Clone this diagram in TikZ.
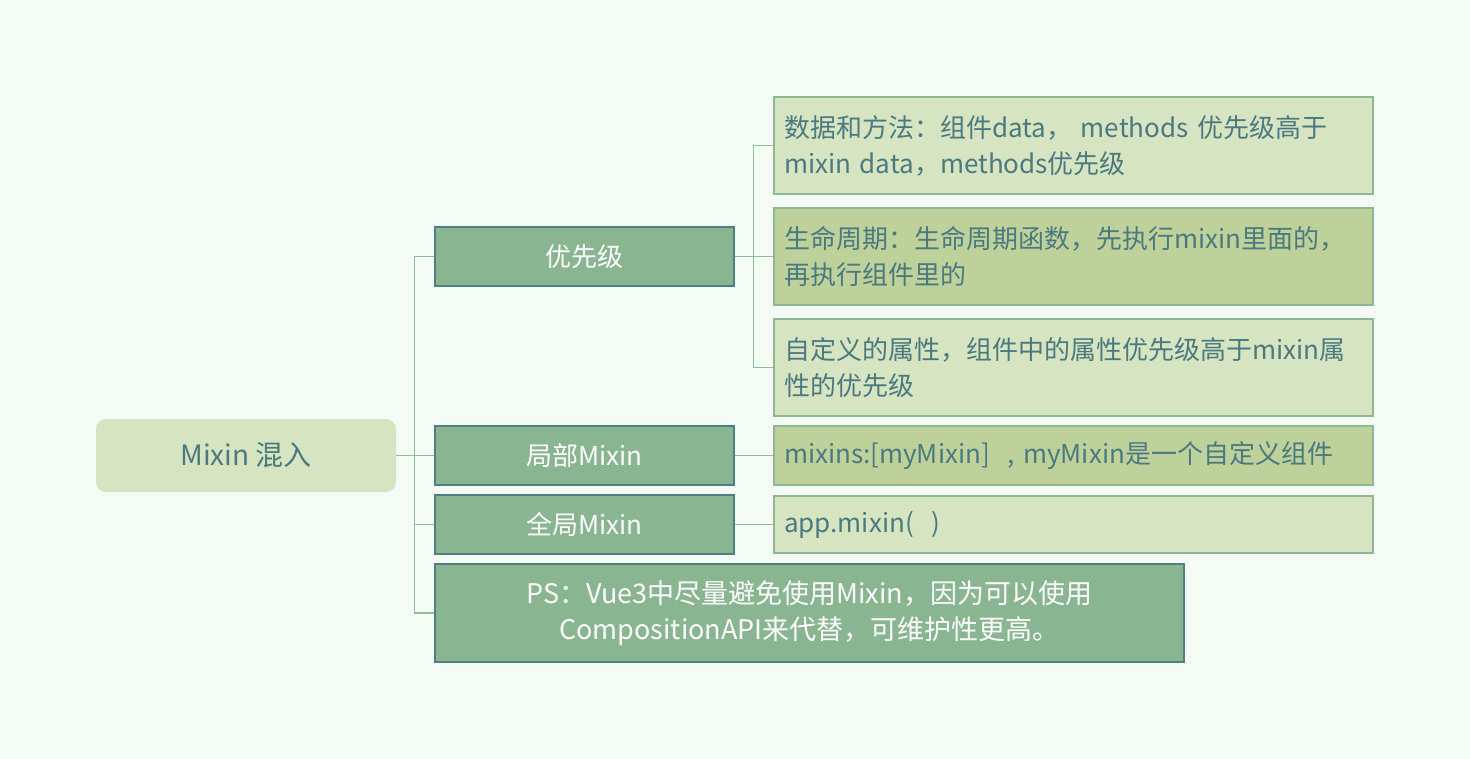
\documentclass[tikz,border=0pt]{standalone}
\usepackage{fontspec}
\setmainfont{Noto Sans CJK SC}
\definecolor{bg}{HTML}{F3FBF4}
\definecolor{txt}{HTML}{4A7A80}
\definecolor{rootfill}{HTML}{D6E4C2}
\definecolor{onefill}{HTML}{89B590}
\definecolor{oneborder}{HTML}{4F7F82}
\definecolor{twolight}{HTML}{D7E4C2}
\definecolor{twodark}{HTML}{BFD19A}
\definecolor{twoborder}{HTML}{8DB896}
\definecolor{conncol}{HTML}{93BC98}
\tikzset{
  rootbox/.style={rectangle, rounded corners=10pt, fill=rootfill, minimum width=300pt, minimum height=73pt, inner sep=0pt, text=txt, font=\fontsize{28}{32}\selectfont},
  onebox/.style={rectangle, fill=onefill, draw=oneborder, line width=1.2pt, minimum width=299pt, minimum height=59pt, inner sep=0pt, text=white, font=\fontsize{26}{36}\selectfont, align=center},
  twobox/.style={rectangle, draw=twoborder, line width=1.2pt, text width=579pt, inner xsep=10pt, inner ysep=0pt, minimum height=97pt, align=left, text=txt, font=\fontsize{26}{36}\selectfont},
  twolt/.style={twobox, fill=twolight},
  twodk/.style={twobox, fill=twodark},
  conn/.style={draw=conncol, line width=1.3pt}
}
\begin{document}
\begin{tikzpicture}[x=1pt,y=-1pt]
\fill[bg] (0,0) rectangle (1470,759);
\useasboundingbox (0,0) rectangle (1470,759);

\node[rootbox] (root) at (246,455.5) {Mixin 混入};

\node[onebox] (p) at (584.5,256.5) {优先级};
\node[onebox] (local) at (584.5,455.5) {局部Mixin};
\node[onebox] (global) at (584.5,524.5) {全局Mixin};
\node[onebox, minimum width=749pt, minimum height=98pt, font=\fontsize{27}{36}\selectfont] (ps) at (809.5,613) {PS：Vue3中尽量避免使用Mixin，因为可以使用\\CompositionAPI来代替，可维护性更高。};

\node[twolt] (a) at (1073.5,145.5) {数据和方法：组件data， methods 优先级高于\\mixin data，methods优先级};
\node[twodk] (b) at (1073.5,256.5) {生命周期：生命周期函数，先执行mixin里面的，\\再执行组件里的};
\node[twolt] (c) at (1073.5,367.5) {自定义的属性，组件中的属性优先级高于mixin属\\性的优先级};
\node[twodk, minimum height=59pt] (d) at (1073.5,455.5) {mixins:[myMixin]\ \ , myMixin是一个自定义组件};
\node[twolt, minimum height=57pt] (e) at (1073.5,524.5) {app.mixin(\ \ )};

\draw[conn] (root.east) -- ++(18,0) |- (p.west);
\draw[conn] (root.east) -- (local.west);
\draw[conn] (root.east) -- ++(18,0) |- (global.west);
\draw[conn] (root.east) -- ++(18,0) |- (ps.west);

\draw[conn] (p.east) -- ++(19,0) |- (a.west);
\draw[conn] (p.east) -- (b.west);
\draw[conn] (p.east) -- ++(19,0) |- (c.west);

\draw[conn] (local.east) -- (d.west);
\draw[conn] (global.east) -- (e.west);
\end{tikzpicture}
\end{document}
